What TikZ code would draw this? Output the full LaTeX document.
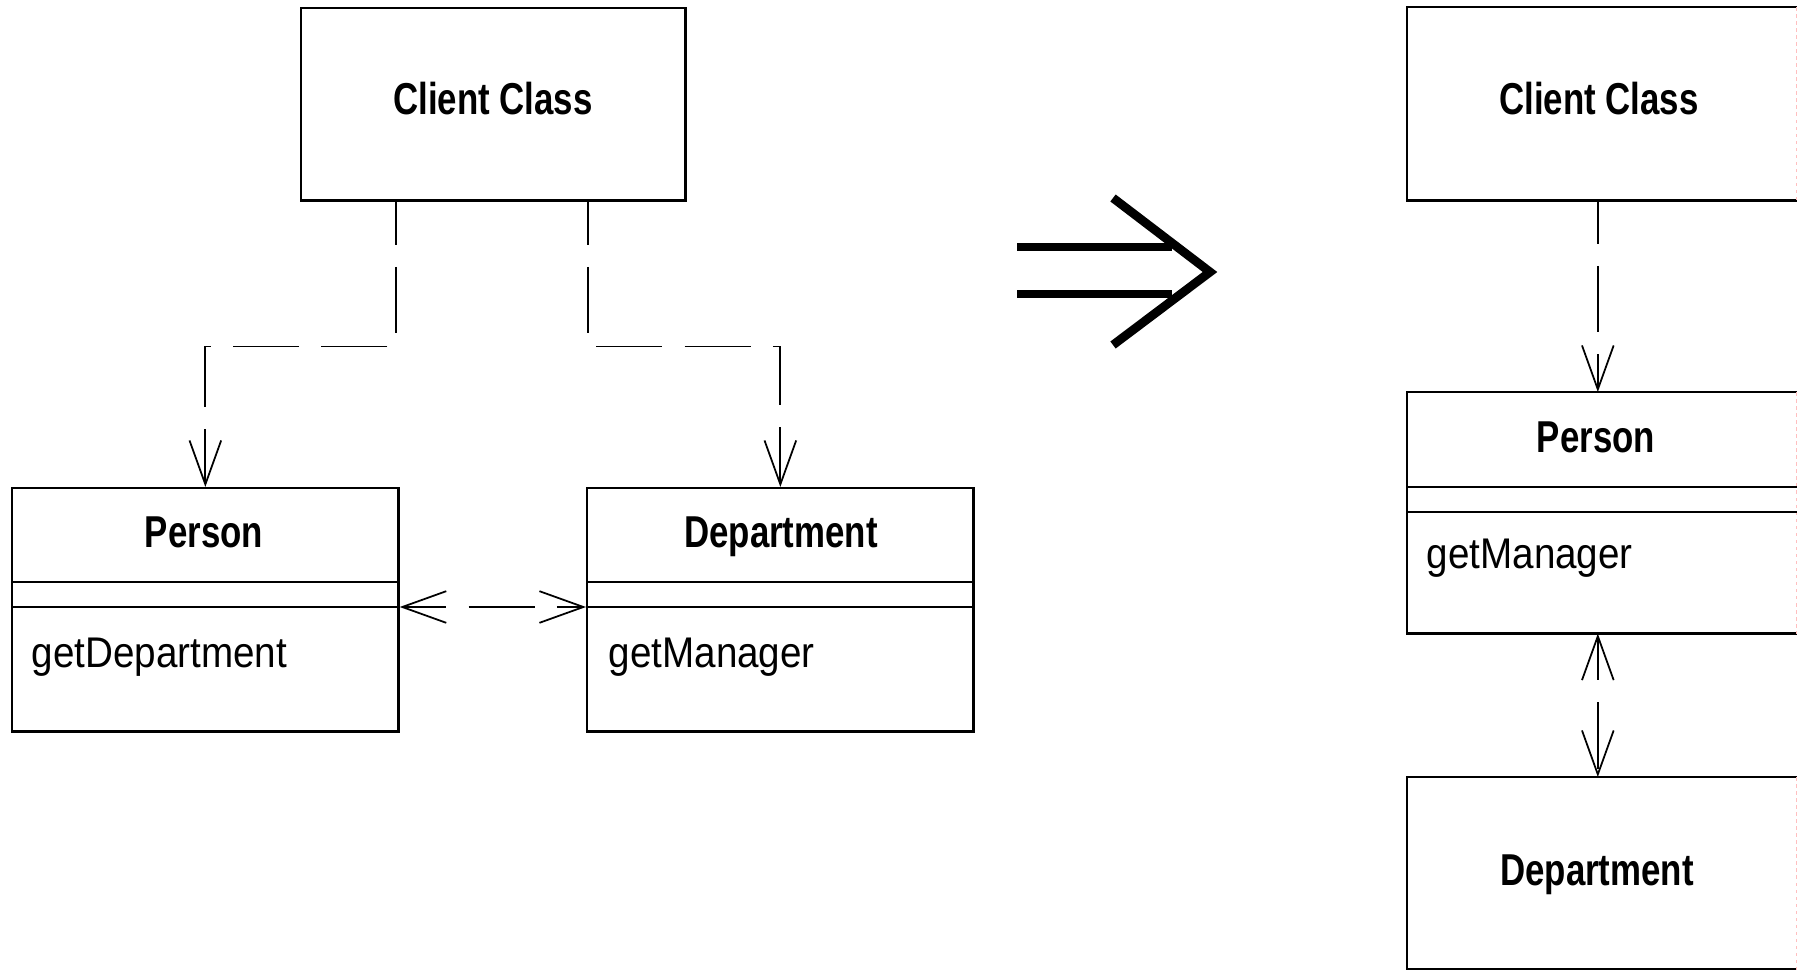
\documentclass[tikz,border=0pt]{standalone}
\usepackage{fontspec}
\newfontfamily\classfont[FakeStretch=0.78]{Liberation Sans}
\newfontfamily\opfont[FakeStretch=0.9]{Liberation Sans}
\usetikzlibrary{arrows.meta,calc}

\tikzset{barb/.tip={Straight Barb[length=12.5pt,width=9pt]}}

\begin{document}
\begin{tikzpicture}[x=0.01cm, y=-0.01cm,
	box/.style={draw, line width=0.7pt, inner sep=0pt, anchor=north west},
	openbox/.style={inner sep=0pt, anchor=north west},
	title/.style={font=\classfont\bfseries\fontsize{12.7}{15}\selectfont, anchor=base, inner sep=0pt},
	op/.style={font=\opfont\fontsize{12.2}{15}\selectfont, anchor=base west, inner sep=0pt},
	depend/.style={line width=0.5pt, dash pattern=on 18.8pt off 6.3pt, dash phase=6.5pt, -barb},
	pagerule/.style={draw=pink, line width=0.6pt, dash pattern=on 1pt off 1pt}]
	\useasboundingbox (0,0) rectangle (1797,970);

	% before
	\node[box, minimum width=3.84cm, minimum height=1.92cm] (client) at (300,7) {};
	\node[box, minimum width=3.86cm, minimum height=2.43cm] (person) at (11,487) {};
	\node[box, minimum width=3.86cm, minimum height=2.43cm] (dept) at (586,487) {};
	\node[title] (clientname) at (493,115) {Client Class};
	\node[title] (personname) at (204,547) {Person};
	\node[title] (deptname) at (781,547) {Department};
	\node[op] (personop) at (31,667) {getDepartment};
	\node[op] (deptop) at (608,667) {getManager};

	% after
	\node[openbox, minimum width=3.88cm, minimum height=1.92cm] (rclient) at (1407,7) {};
	\node[openbox, minimum width=3.88cm, minimum height=2.40cm] (rperson) at (1407,392) {};
	\node[openbox, minimum width=3.88cm, minimum height=1.91cm] (rdept) at (1407,777) {};
	\node[title] (rclientname) at (1599,115) {Client Class};
	\node[title] (rpersonname) at (1596,452) {Person};
	\node[title] (rdeptname) at (1597,885) {Department};
	\node[op] (rpersonop) at (1426,568) {getManager};

	\foreach \cls in {rclient, rperson, rdept} {
		\draw[line width=0.7pt] (\cls.north east) -- (\cls.north west) -- (\cls.south west) -- (\cls.south east);
		\draw[pagerule] (\cls.north east) -- (\cls.south east);
	}
	\foreach \cls in {person, dept, rperson}
		\foreach \dy in {95, 120}
			\draw[line width=0.7pt] ($(\cls.north west)+(0,\dy)$) -- ($(\cls.north east)+(0,\dy)$);

	\draw[depend] ($(client.south west)+(96,0)$) -- ++(0,145) -| (person.north);
	\draw[depend] ($(client.south east)+(-99,0)$) -- ++(0,145) -| (dept.north);
	\draw[depend, barb-barb] ($(person.north east)+(0,120)$) -- ($(dept.north west)+(0,120)$);
	\draw[depend] ($(rclient.south)+(-4,0)$) -- ($(rperson.north)+(-4,0)$);
	\draw[depend, barb-barb] ($(rperson.south)+(-4,0)$) -- ($(rdept.north)+(-4,0)$);

	% refactoring arrow
	\draw[line width=2.3pt] (1017,247) -- (1172,247) (1017,294) -- (1172,294);
	\draw[line width=2.5pt, line join=miter] (1113,198) -- (1210,272) -- (1113,345);
\end{tikzpicture}
\end{document}
